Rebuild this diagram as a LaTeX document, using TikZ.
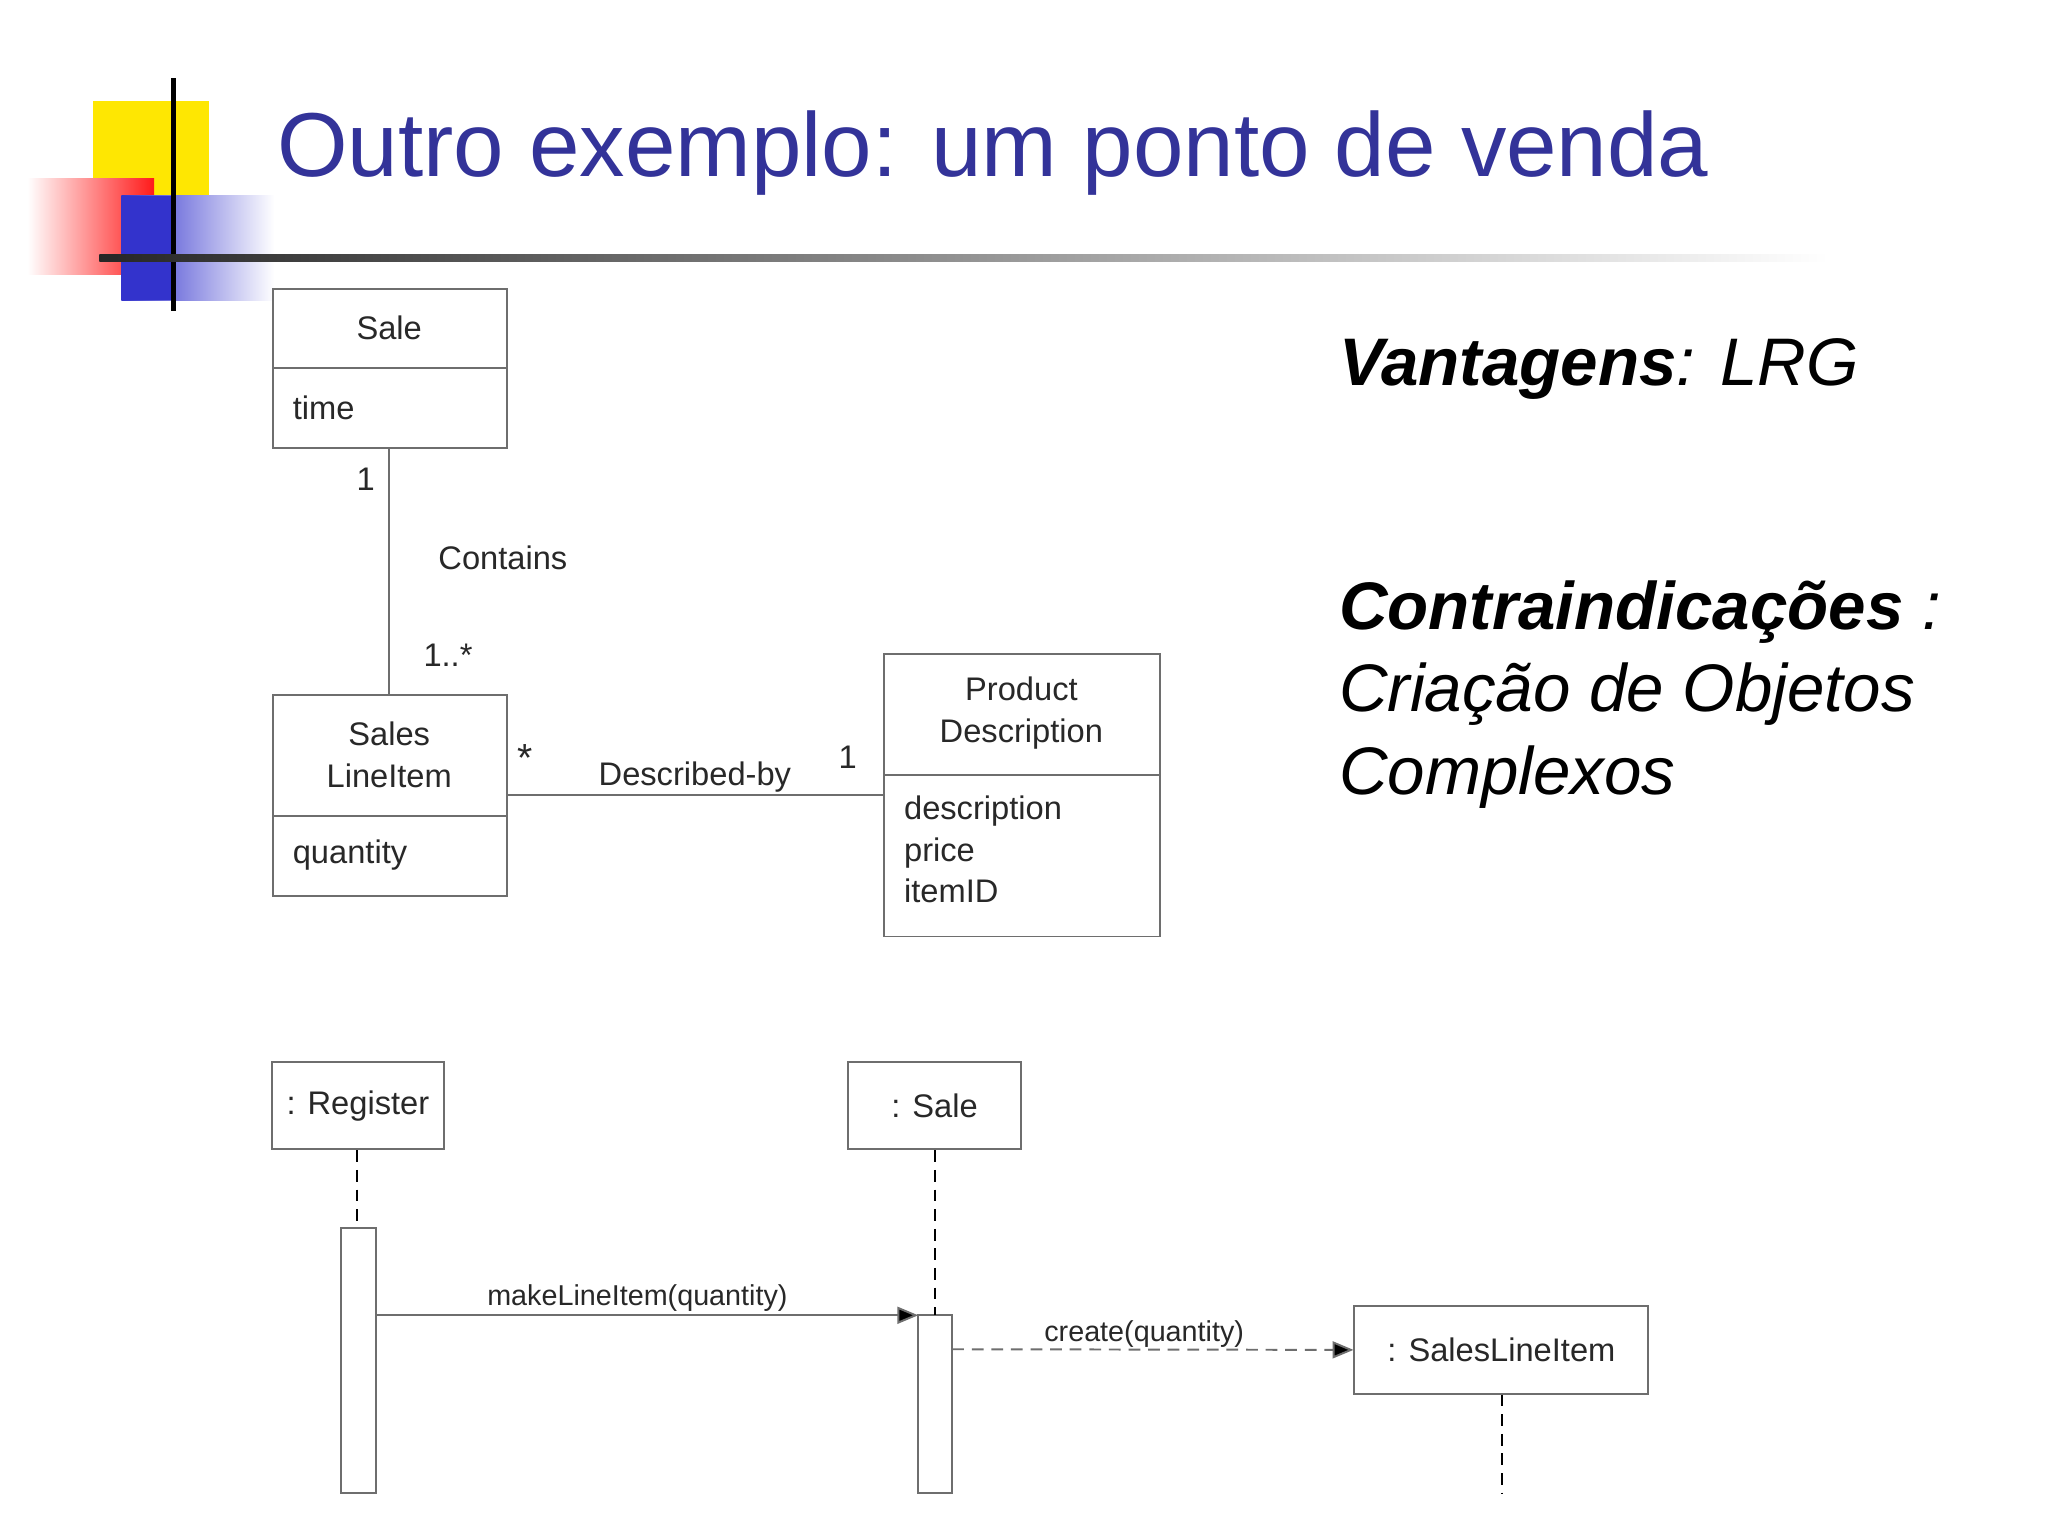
\documentclass[tikz,border=0pt]{standalone}
\usepackage{fontspec}
\setmainfont{Liberation Sans}
\usetikzlibrary{arrows.meta}
\definecolor{ttl}{RGB}{51,51,153}
\definecolor{ln}{RGB}{110,110,110}
\definecolor{tx}{RGB}{40,40,40}
\definecolor{lblue}{RGB}{51,51,204}
\tikzset{
  box/.style={draw=ln,line width=1.5pt},
  lbl/.style={text=tx,font=\fontsize{25}{30}\selectfont,inner sep=0pt},
  life/.style={draw=black,line width=1.5pt,dash pattern=on 9pt off 6pt},
  msg/.style={draw=ln,line width=1.5pt,-{Triangle[length=16pt,width=13pt,fill=black]}},
  rt/.style={anchor=base west,inner sep=0pt,font=\fontsize{51.5}{60}\selectfont\itshape},
}
\begin{document}
\begin{tikzpicture}[x=1pt,y=-1pt]
\useasboundingbox[fill=white] (0,0) rectangle (1568,1176);
% logo
\fill[yellow!90!orange] (71,77) rectangle (160,165);
\shade[left color=white,right color=red!90] (21,137) rectangle (118,210);
\shade[left color=lblue,right color=white] (93,150) rectangle (210,230);
\fill[lblue] (93,150) rectangle (133,230);
\draw[line width=4pt] (133,60) -- (133,238);
\shade[left color=black!85,right color=white] (76,195) rectangle (1400,200);
\node[anchor=base west,text=ttl,font=\fontsize{69.5}{80}\selectfont,inner sep=0pt] (title) at (212,135) {Outro exemplo: um ponto de venda};
% right text
\node[rt] (v) at (1025,295) {\textbf{Vantagens}: LRG};
\node[rt] (c1) at (1025,482) {\textbf{Contraindicações} :};
\node[rt] (c2) at (1025,545) {Criação de Objetos};
\node[rt] (c3) at (1025,608) {Complexos};
% class diagram
\draw[box] (209,221) rectangle (388,343); \draw[box] (209,282) -- (388,282);
\node[lbl] (sale) at (298,251) {Sale};
\node[lbl,anchor=west] (time) at (224,312) {time};
\draw[box] (209,532) rectangle (388,686); \draw[box] (209,625) -- (388,625);
\node[lbl,align=center] (sli) at (298,578) {Sales\\[2pt]LineItem};
\node[lbl,anchor=west] (qty) at (224,655) {quantity};
\draw[box] (677,501) rectangle (888,717); \draw[box] (677,593) -- (888,593);
\node[lbl,align=center] (pd) at (782,546) {Product\\[2pt]Description};
\node[lbl,anchor=north west,align=left] (attrs) at (692,609) {description\\[2pt]price\\[2pt]itemID};
\coordinate (a1) at (298,343); \coordinate (a2) at (298,532);
\draw[box] (a1) -- (a2);
\coordinate (b1) at (388,609); \coordinate (b2) at (677,609);
\draw[box] (b1) -- (b2);
\node[lbl] (m1) at (280,367) {1};
\node[lbl] (ct) at (385,427) {Contains};
\node[lbl] (m2) at (343,502) {1..*};
\node[lbl,font=\fontsize{30}{30}\selectfont] (m3) at (402,580) {*};
\node[lbl] (db) at (532,595) {Described-by};
\node[lbl] (m4) at (649,580) {1};
% sequence diagram
\node[box,lbl,minimum width=132pt,minimum height=67pt,inner sep=0pt] (reg) at (274,846.5) {: Register};
\node[box,lbl,minimum width=133pt,minimum height=67pt,inner sep=0pt] (ss) at (715.5,846.5) {: Sale};
\node[box,lbl,minimum width=225pt,minimum height=67pt,inner sep=0pt] (sl) at (1149.5,1033.5) {: SalesLineItem};
\draw[box] (261,940) rectangle (288,1143);
\draw[box] (703,1007) rectangle (729,1143);
\coordinate (r1) at (273,940); \coordinate (s1) at (716,1007); \coordinate (l1) at (1150,1143);
\draw[life] (reg.south -| r1) -- (r1);
\draw[life] (ss.south -| s1) -- (s1);
\draw[life] (sl.south -| l1) -- (l1);
\coordinate (p1) at (288,1007); \coordinate (p2) at (703,1007);
\draw[msg] (p1) -- (p2);
\node[lbl,font=\fontsize{22}{26}\selectfont] (mk) at (488,994) {makeLineItem(quantity)};
\coordinate (q1) at (729,1033);
\draw[msg,dash pattern=on 9pt off 6pt] (q1) -- (sl.west);
\node[lbl,font=\fontsize{22}{26}\selectfont] (cr) at (876,1021) {create(quantity)};
\end{tikzpicture}
\end{document}
